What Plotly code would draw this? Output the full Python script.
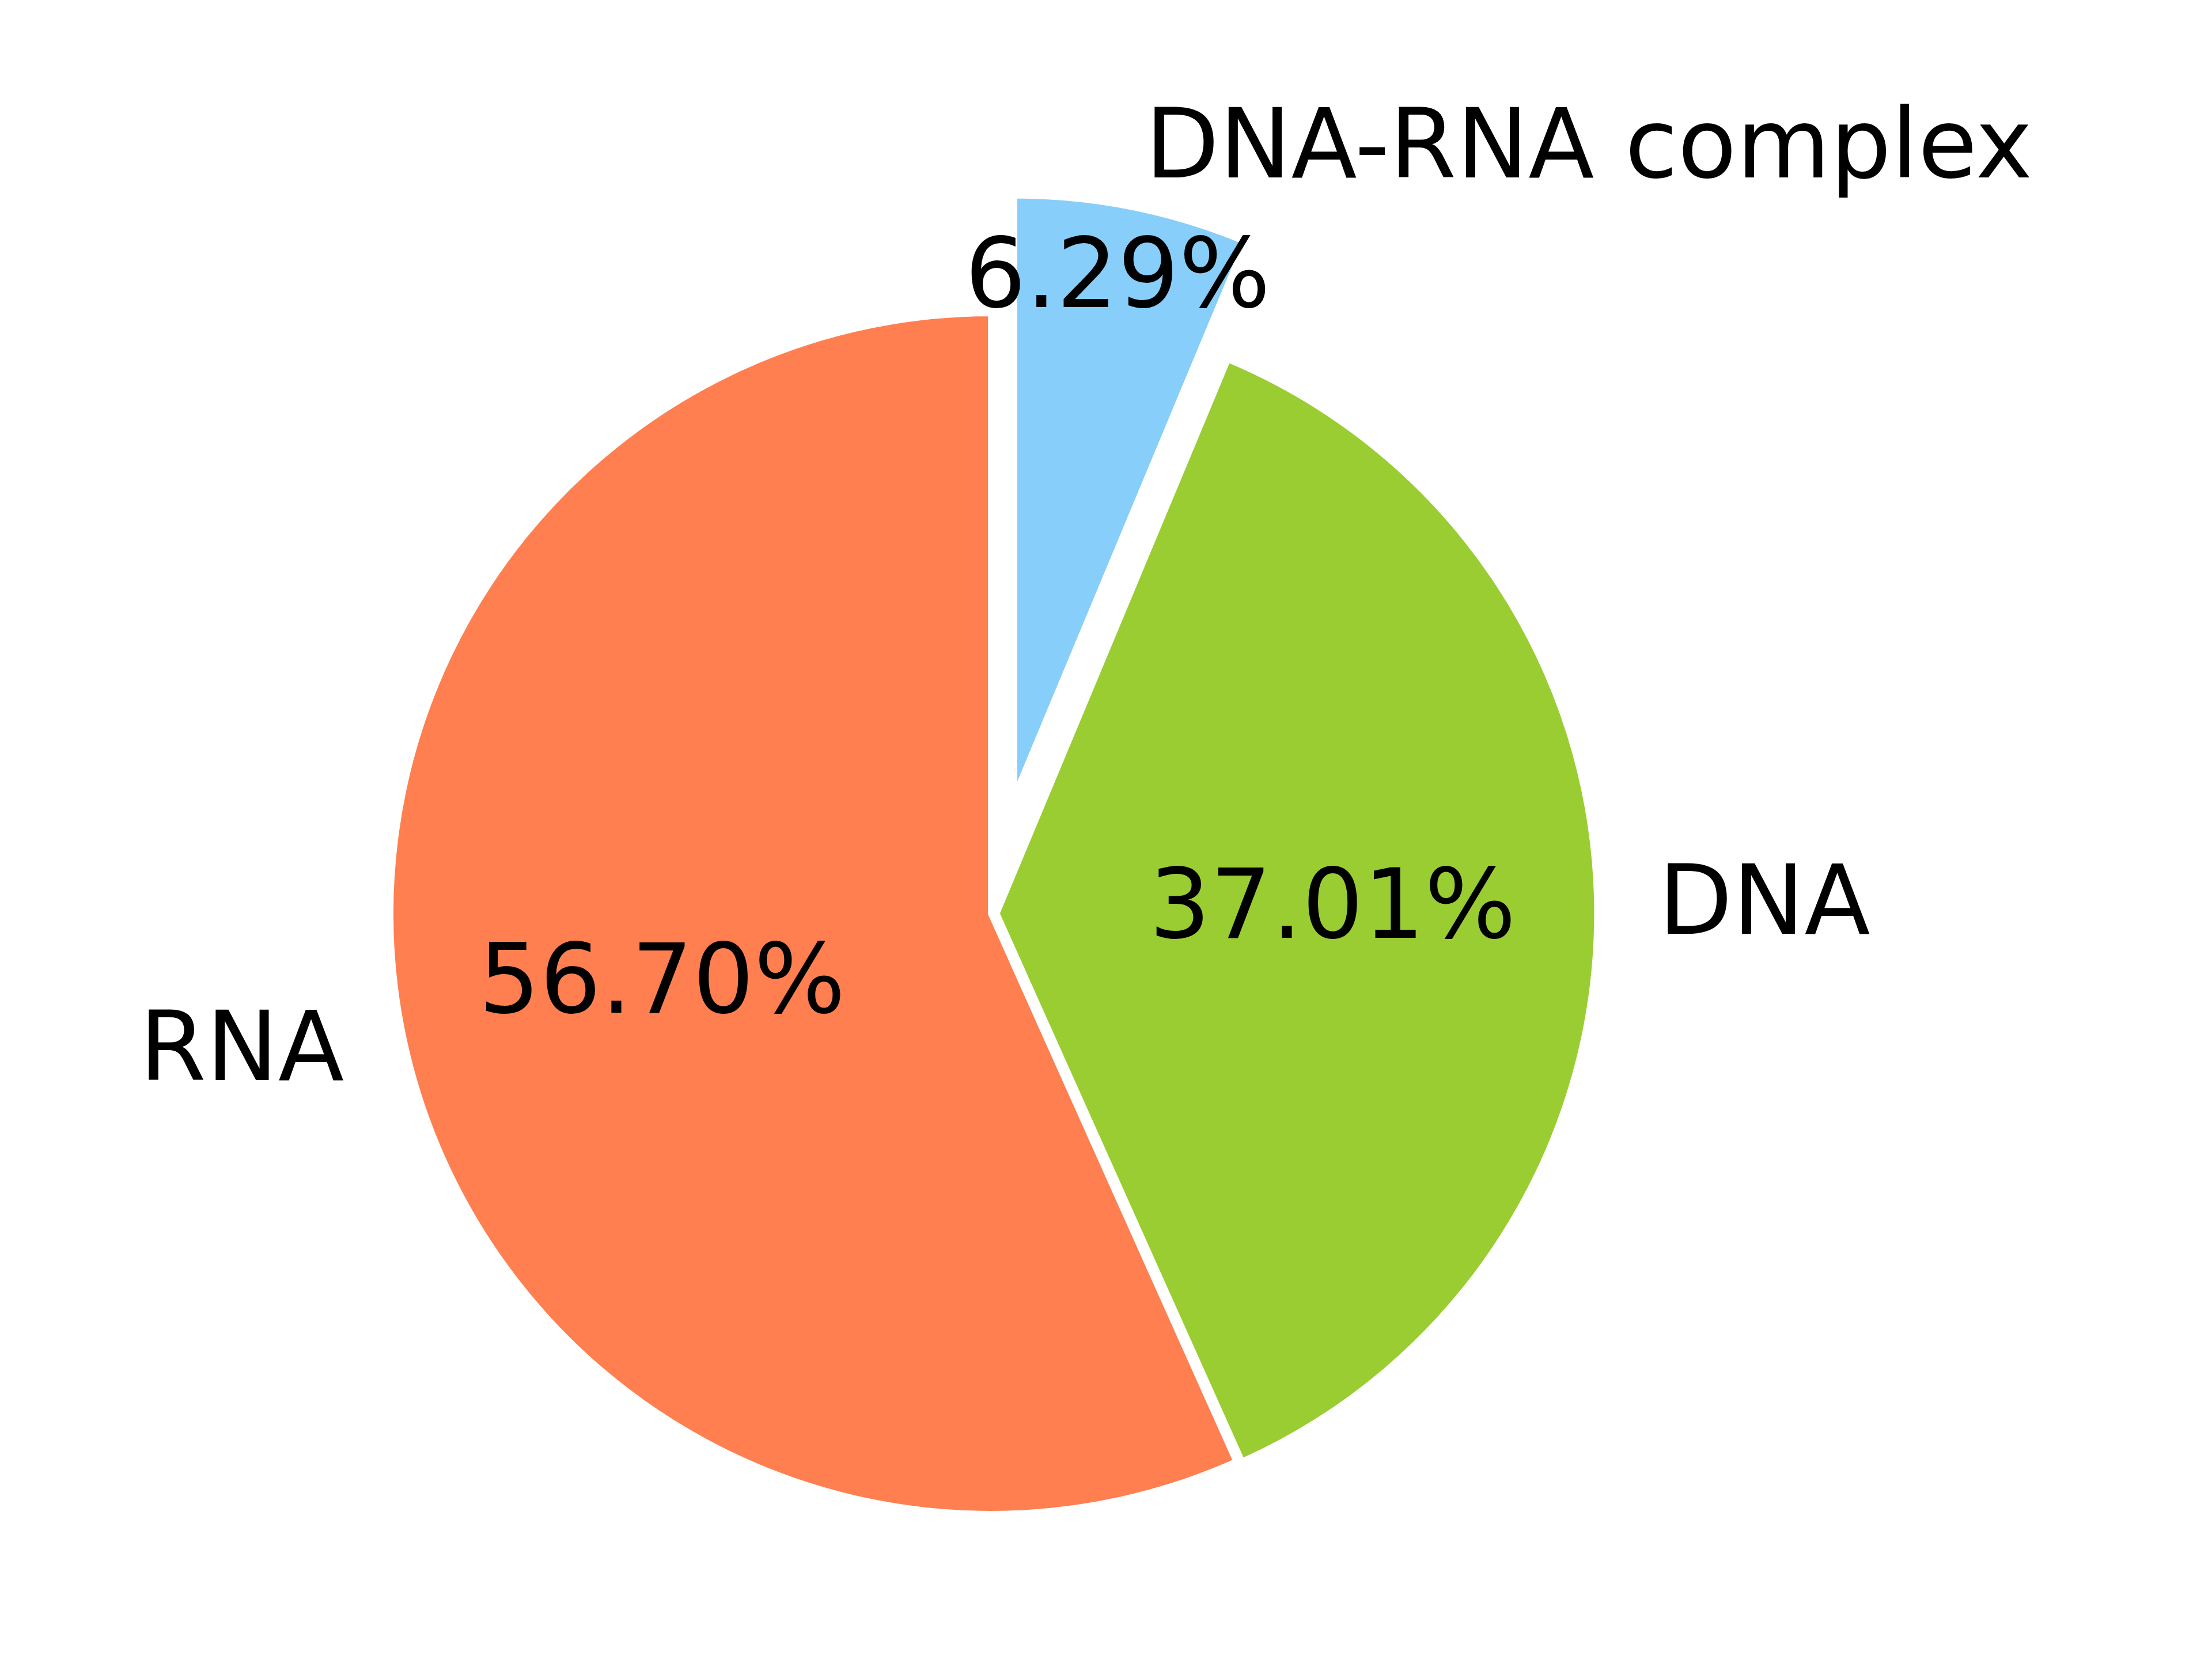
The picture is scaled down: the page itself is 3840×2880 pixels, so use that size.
import math
import plotly.graph_objects as go

# ---- data ----
categories = ["DNA-RNA complex", "DNA", "RNA"]
shares = [6.29, 37.01, 56.70]

# ---- style ----
colors = ["#87CEFA", "#9ACD32", "#FF7F50"]
pulls = [0.2, 0.01, 0.0]
pct_distance = [0.88, 0.56, 0.56]
label_distance = 1.1

W, H = 3840, 2880
R_PX = 1042            # pie radius in px
CX_PX, CY_PX = 1720, 1586  # pie centre in px (from top-left)
FONT = dict(family="DejaVu Sans", size=167, color="black")
TEXT_YSHIFT = 8

max_pull = max(pulls)
cx = CX_PX / W
cy = 1 - CY_PX / H
half_w = R_PX * (1 + max_pull) / W
half_h = R_PX * (1 + max_pull) / H

fig = go.Figure(
    go.Pie(
        labels=categories,
        values=shares,
        sort=False,
        direction="clockwise",
        rotation=0,
        pull=pulls,
        marker=dict(colors=colors, line=dict(color="white", width=10)),
        textinfo="none",
        hoverinfo="label+percent",
        showlegend=False,
        domain=dict(x=[cx - half_w, cx + half_w], y=[cy - half_h, cy + half_h]),
    )
)

total = sum(shares)
annotations = []
cum = 0.0
for lab, v, p, pd_ in zip(categories, shares, pulls, pct_distance):
    mid = 90 - 360 * (cum + v / 2) / total
    cum += v
    ca, sa = math.cos(math.radians(mid)), math.sin(math.radians(mid))
    # wedge centre after pull (px, y up)
    ox, oy = p * R_PX * ca, p * R_PX * sa
    # percentage text
    px_ = ox + pd_ * R_PX * ca
    py_ = oy + pd_ * R_PX * sa
    annotations.append(dict(
        x=cx + px_ / W, y=cy + py_ / H, xref="paper", yref="paper",
        text=f"{v / total * 100:.2f}%", showarrow=False,
        xanchor="center", yanchor="middle", font=FONT, yshift=TEXT_YSHIFT,
    ))
    # category label
    lx = ox + label_distance * R_PX * ca
    ly = oy + label_distance * R_PX * sa
    annotations.append(dict(
        x=cx + lx / W, y=cy + ly / H, xref="paper", yref="paper",
        text=lab, showarrow=False,
        xanchor="left" if lx > 0 else "right", yanchor="middle", font=FONT,
        yshift=TEXT_YSHIFT,
    ))

fig.update_layout(
    width=W, height=H,
    margin=dict(l=0, r=0, t=0, b=0),
    paper_bgcolor="white", plot_bgcolor="white",
    annotations=annotations,
    font=FONT,
)

fig.write_html("out.html", config={"displayModeBar": False})

# remove the browser's default body margin so the figure sits at the page origin
with open("out.html", "r", encoding="utf-8") as f:
    html = f.read()
html = html.replace("<body>", '<body style="margin:0;padding:0;">', 1)
with open("out.html", "w", encoding="utf-8") as f:
    f.write(html)
